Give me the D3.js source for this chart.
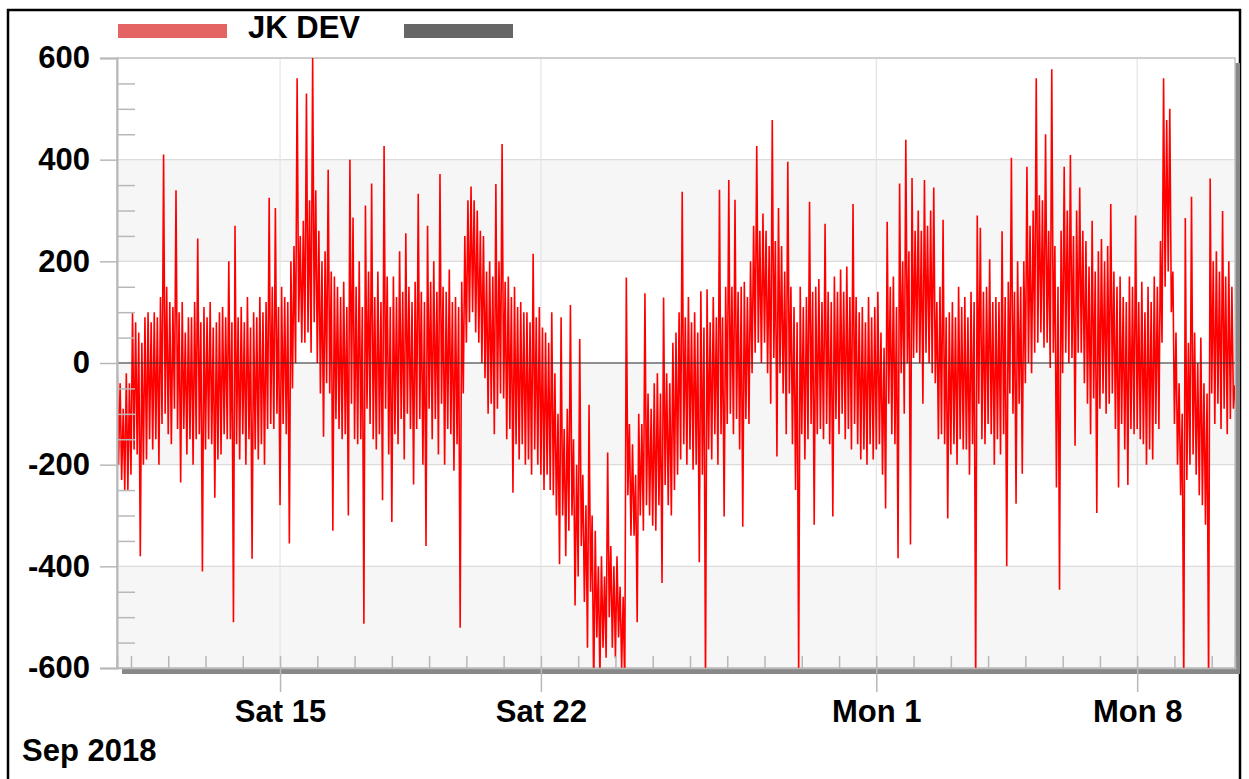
<!DOCTYPE html>
<html>
<head>
<meta charset="utf-8">
<script src="https://cdnjs.cloudflare.com/ajax/libs/d3/7.8.5/d3.min.js"></script>
<style>
  body { margin: 0; background: #fff; }
  text { font-family: "Liberation Sans", Arial, sans-serif; font-weight: bold; fill: #000; }
</style>
</head>
<body>
<svg id="chart" width="1249" height="779"></svg>
<script>
// hourly readings, starting Sep 10 2018 15:00 (one row per day)
const seriesName = "JK DEV";
const startTime = new Date(2018, 8, 10, 15);
const stepHours = 1;
const devValues = [
  20,-200,-40,-230,-90,-250,-20,-250,-40,-220,100,-170,80,-180,60,-380,40,-200,90,-190,100,-150,80,-170,
  100,-150,90,-200,130,-120,410,-100,150,-140,120,-160,110,-90,340,-130,100,-235,120,-130,60,-180,90,-150,
  90,-200,120,-150,245,-140,80,-410,110,-170,90,-150,120,-160,70,-265,80,-190,100,-180,110,-140,90,-150,
  200,-150,80,-510,270,-160,90,-190,110,-140,80,-200,130,-150,70,-385,100,-170,90,-190,130,-160,100,-200,
  120,-130,325,-120,150,-130,305,-100,110,-280,150,-120,130,-140,120,-355,200,-50,230,0,560,80,250,40,
  280,40,530,60,320,20,600,80,340,0,260,-60,200,-145,220,-40,380,-60,180,-330,170,-110,150,-130,
  130,-150,160,-140,110,-300,400,-80,286,-150,150,-160,200,-150,110,-513,310,-90,180,-120,353,-150,130,-170,
  180,-140,120,-270,427,-90,170,-180,110,-313,170,-140,130,-160,220,-110,140,-190,255,-100,150,-130,120,-239,
  160,-130,333,-110,140,-200,120,-360,270,-90,160,-150,200,-110,140,-180,372,-80,150,-200,140,-130,184,-140,
  120,-212,130,-160,110,-521,160,-60,250,40,320,80,347,100,320,60,300,40,260,0,250,-30,180,-100,
  200,-80,170,-140,352,-90,200,-60,431,-70,160,-150,170,-130,130,-255,150,-160,110,-190,120,-160,100,-200,
  100,-190,80,-220,215,-170,90,-200,110,-220,70,-250,60,-220,40,-250,100,-260,-20,-300,-100,-396,90,-300,
  -130,-380,-90,-330,114,-300,-150,-477,-200,-420,47,-360,-220,-470,-280,-560,-82,-450,-300,-650,-330,-540,-400,-620,
  -380,-560,-420,-580,-176,-500,-360,-560,-400,-580,-380,-540,-440,-600,-460,-640,168,-260,-120,-340,-160,-340,-220,-510,
  -100,-300,-120,-330,137,-280,-60,-300,-90,-320,-40,-330,-20,-280,-60,-433,129,-240,-20,-280,-40,-300,40,-250,
  60,-220,100,-190,337,-160,90,-200,130,-170,80,-210,100,-200,60,-392,141,-220,70,-640,145,-170,80,-190,
  130,-140,90,-200,341,-140,90,-302,150,-120,360,-100,150,-140,321,-110,140,-170,150,-322,160,-110,130,-120,
  200,-20,270,20,427,40,260,0,294,40,260,-20,230,-80,478,10,240,-184,305,-20,230,-60,180,-140,
  396,-60,150,-160,110,-250,80,-620,150,-140,110,-190,130,-150,317,-120,140,-318,150,-140,165,-130,120,-150,
  274,-120,140,-160,120,-302,170,-110,140,-140,184,-100,140,-150,190,-130,130,-170,313,-120,130,-160,100,-190,
  110,-170,80,-200,130,-160,90,-190,110,-170,140,-160,60,-220,30,-286,278,-80,150,-140,170,-160,110,-384,
  353,-20,200,-100,439,0,220,-357,364,10,260,20,300,0,260,-80,360,20,270,0,300,-20,345,-40,
  120,-150,150,-140,282,-160,90,-306,100,-180,120,-160,90,-200,150,-150,110,-170,130,-170,90,-220,140,-160,
  120,-650,290,-80,266,-150,140,-160,150,-120,204,-140,120,-200,130,-150,120,-180,259,-140,130,-400,160,-60,
  404,-100,140,-277,200,-80,150,-218,200,-40,386,0,270,-20,300,20,560,40,330,60,320,30,450,40,
  260,-10,578,20,230,-245,150,-446,260,-20,386,20,300,0,409,10,250,-163,300,20,345,20,260,-40,
  240,-80,190,-140,280,-70,180,-295,220,-90,244,-60,200,-100,230,-80,313,-60,180,-130,150,-245,170,-120,
  130,-170,120,-240,170,-130,150,-140,290,-130,120,-150,160,-160,100,-200,150,-170,120,-190,170,-120,150,-130,
  240,40,560,150,478,180,500,100,180,-120,60,-200,-40,-260,-100,-640,285,-230,40,-200,327,-180,60,-220,
  0,-260,50,-280,-40,-318,-60,-640,363,-60,200,-120,220,-80,180,-130,299,-90,170,-140,200,-110,150,-90,
  -44
];

const yTicks = [-600, -400, -200, 0, 200, 400, 600];
const yMinorTicks = [-550,-500,-450,-350,-300,-250,-150,-100,-50,50,100,150,250,300,350,450,500,550];
const shadedBands = [[200, 400], [-200, 0], [-600, -400]];
const xMajorDates = ["2018-09-15", "2018-09-22", "2018-10-01", "2018-10-08"];
const xMajorLabels = ["Sat 15", "Sat 22", "Mon 1", "Mon 8"];
const monthLabel = "Sep 2018";

const parseDay = d3.timeParse("%Y-%m-%d");
const data = devValues.map((v, i) => ({ t: d3.timeHour.offset(startTime, i * stepHours), v: v }));

const plot = { left: 117, right: 1235, top: 58, bottom: 668 };
const svg = d3.select("#chart");

// outer frame
svg.append("rect")
  .attr("x", 8).attr("y", 10).attr("width", 1232).attr("height", 790)
  .attr("fill", "none").attr("stroke", "#000").attr("stroke-width", 2.5);

const x = d3.scaleTime()
  .domain([startTime, d3.timeHour.offset(startTime, (devValues.length - 1) * stepHours)])
  .range([plot.left, plot.right]);
const y = d3.scaleLinear().domain([-600, 600]).range([plot.bottom, plot.top]);

// background bands
svg.append("g").selectAll("rect")
  .data(shadedBands)
  .join("rect")
  .attr("x", plot.left).attr("width", plot.right - plot.left)
  .attr("y", d => y(d[1])).attr("height", d => y(d[0]) - y(d[1]))
  .attr("fill", "#f6f6f6");

// horizontal grid
svg.append("g").selectAll("line")
  .data(yTicks)
  .join("line")
  .attr("x1", plot.left).attr("x2", plot.right)
  .attr("y1", d => y(d)).attr("y2", d => y(d))
  .attr("stroke", "#dcdcdc").attr("stroke-width", 1.2);

// vertical grid at major dates
svg.append("g").selectAll("line")
  .data(xMajorDates.map(parseDay))
  .join("line")
  .attr("x1", d => x(d)).attr("x2", d => x(d))
  .attr("y1", plot.top).attr("y2", plot.bottom)
  .attr("stroke", "#e4e4e4").attr("stroke-width", 1.2);

// shadow on right and bottom
svg.append("rect").attr("x", plot.right).attr("y", plot.top + 5)
  .attr("width", 5).attr("height", plot.bottom - plot.top + 1).attr("fill", "#888");
svg.append("rect").attr("x", plot.left + 5).attr("y", plot.bottom + 1)
  .attr("width", plot.right - plot.left).attr("height", 5).attr("fill", "#888");

// plot frame
svg.append("rect")
  .attr("x", plot.left).attr("y", plot.top)
  .attr("width", plot.right - plot.left).attr("height", plot.bottom - plot.top)
  .attr("fill", "none").attr("stroke", "#c4c4c4").attr("stroke-width", 1.5);

// data line
svg.append("clipPath").attr("id", "clip")
  .append("rect")
  .attr("x", plot.left).attr("y", plot.top)
  .attr("width", plot.right - plot.left).attr("height", plot.bottom - plot.top);

const line = d3.line().x(d => x(d.t)).y(d => y(d.v));
svg.append("path")
  .datum(data)
  .attr("clip-path", "url(#clip)")
  .attr("fill", "none")
  .attr("stroke", "#ff0000")
  .attr("stroke-width", 1.6)
  .attr("stroke-linejoin", "bevel")
  .attr("d", line);

// zero line on top
svg.append("line")
  .attr("x1", plot.left).attr("x2", plot.right)
  .attr("y1", y(0)).attr("y2", y(0))
  .attr("stroke", "#333").attr("stroke-width", 1.2);

// y axis
const yAxis = svg.append("g")
  .attr("transform", `translate(${plot.left},0)`)
  .call(d3.axisLeft(y).tickValues(yTicks).tickSize(17).tickPadding(10).tickFormat(d => d.toString()));
yAxis.select(".domain").attr("stroke", "#b8b8b8").attr("stroke-width", 2);
yAxis.selectAll(".tick line").attr("stroke", "#b8b8b8").attr("stroke-width", 1.5);
yAxis.selectAll("text").attr("font-size", 31).attr("font-family", null);

const yMinor = svg.append("g")
  .attr("transform", `translate(${plot.left},0)`)
  .call(d3.axisRight(y).tickValues(yMinorTicks).tickSize(18).tickFormat(""));
yMinor.select(".domain").remove();
yMinor.selectAll(".tick line").attr("stroke", "#b8b8b8").attr("stroke-width", 1.5);

// x axis: minor day ticks
const dayTicks = d3.timeDay.range(d3.timeDay.ceil(x.domain()[0]), x.domain()[1]);
const xMinor = svg.append("g")
  .attr("transform", `translate(0,${plot.bottom})`)
  .call(d3.axisTop(x).tickValues(dayTicks).tickSize(12).tickFormat(""));
xMinor.select(".domain").attr("stroke", "#b8b8b8").attr("stroke-width", 1.5);
xMinor.selectAll(".tick line").attr("stroke", "#b8b8b8").attr("stroke-width", 1.5);

const xAxis = svg.append("g")
  .attr("transform", `translate(0,${plot.bottom})`)
  .call(d3.axisBottom(x).tickValues(xMajorDates.map(parseDay)).tickSize(24).tickPadding(8)
    .tickFormat((d, i) => xMajorLabels[i]));
xAxis.select(".domain").remove();
xAxis.selectAll(".tick line").attr("stroke", "#b8b8b8").attr("stroke-width", 1.5);
xAxis.selectAll("text").attr("font-size", 31).attr("font-family", null);

svg.append("text")
  .attr("x", 22).attr("y", 761)
  .attr("font-size", 31)
  .text(monthLabel);

// legend
svg.append("rect").attr("x", 118).attr("y", 24).attr("width", 109).attr("height", 14).attr("fill", "#e46464");
svg.append("text").attr("x", 248).attr("y", 38).attr("font-size", 31).text(seriesName);
svg.append("rect").attr("x", 404).attr("y", 24).attr("width", 109).attr("height", 14).attr("fill", "#666");
</script>
</body>
</html>
